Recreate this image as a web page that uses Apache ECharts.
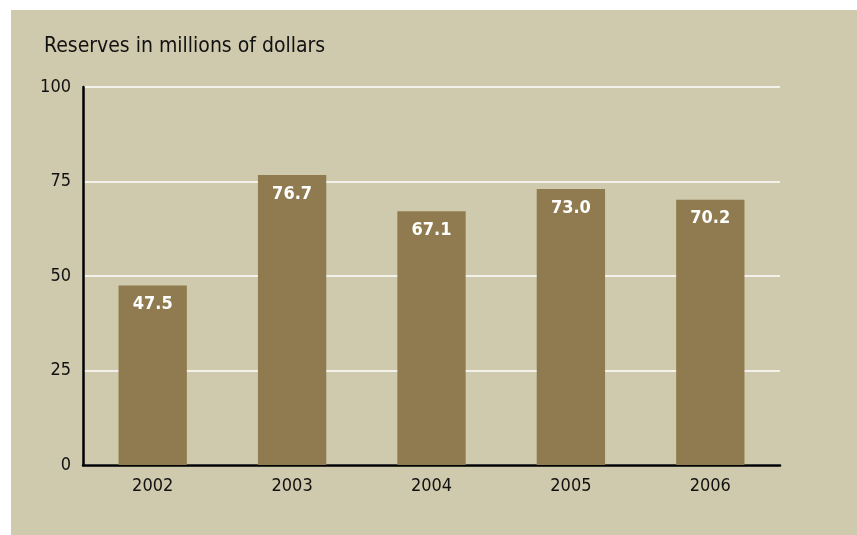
<!DOCTYPE html>
<html><head><meta charset="utf-8">
<script src="https://cdn.jsdelivr.net/npm/echarts@6/dist/echarts.min.js"></script>
<style>html,body{margin:0;padding:0;background:#fff;}#wrap{position:absolute;left:11px;top:10px;width:846px;height:525px;background:#CFC9AD;}#c{width:857px;height:535px;position:absolute;left:0;top:0;}</style>
</head><body><div id="wrap"></div><div id="c"></div>
<script>
const categories = ['2002','2003','2004','2005','2006'];
const reserves = [47.5, 76.7, 67.1, 73.0, 70.2];
const yTicks = [0, 25, 50, 75, 100];
const titleText = 'Reserves in millions of dollars';

const font = '"DejaVu Sans Condensed", "Liberation Sans Narrow", "Arial Narrow", sans-serif';
const chart = echarts.init(document.getElementById('c'), null, {renderer:'canvas'});
chart.setOption({
  animation:false,
  backgroundColor:'transparent',
  title:{text:titleText,left:44,top:36,padding:0,textStyle:{fontFamily:font,fontSize:21,fontWeight:'normal',color:'#111'}},
  grid:{left:83,right:77,top:87,bottom:70,containLabel:false},
  xAxis:{type:'category',data:categories,
    axisLine:{lineStyle:{color:'#000',width:2.5}},axisTick:{show:false},
    axisLabel:{fontFamily:font,fontSize:18,color:'#111',margin:12}},
  yAxis:{type:'value',min:yTicks[0],max:yTicks[yTicks.length-1],interval:25,
    axisLine:{show:true,lineStyle:{color:'#000',width:2.5}},axisTick:{show:false},
    axisLabel:{fontFamily:font,fontSize:18,color:'#111',margin:12},
    splitLine:{lineStyle:{color:'#fff',width:1.5}}},
  series:[{type:'bar',data:reserves,barWidth:'49%',itemStyle:{color:'#8F7B4F'},
    label:{show:true,position:'insideTop',distance:10,fontFamily:font,fontSize:18,fontWeight:'bold',color:'#fff',
      formatter:p=>p.value.toFixed(1)}}]
});
</script></body></html>
